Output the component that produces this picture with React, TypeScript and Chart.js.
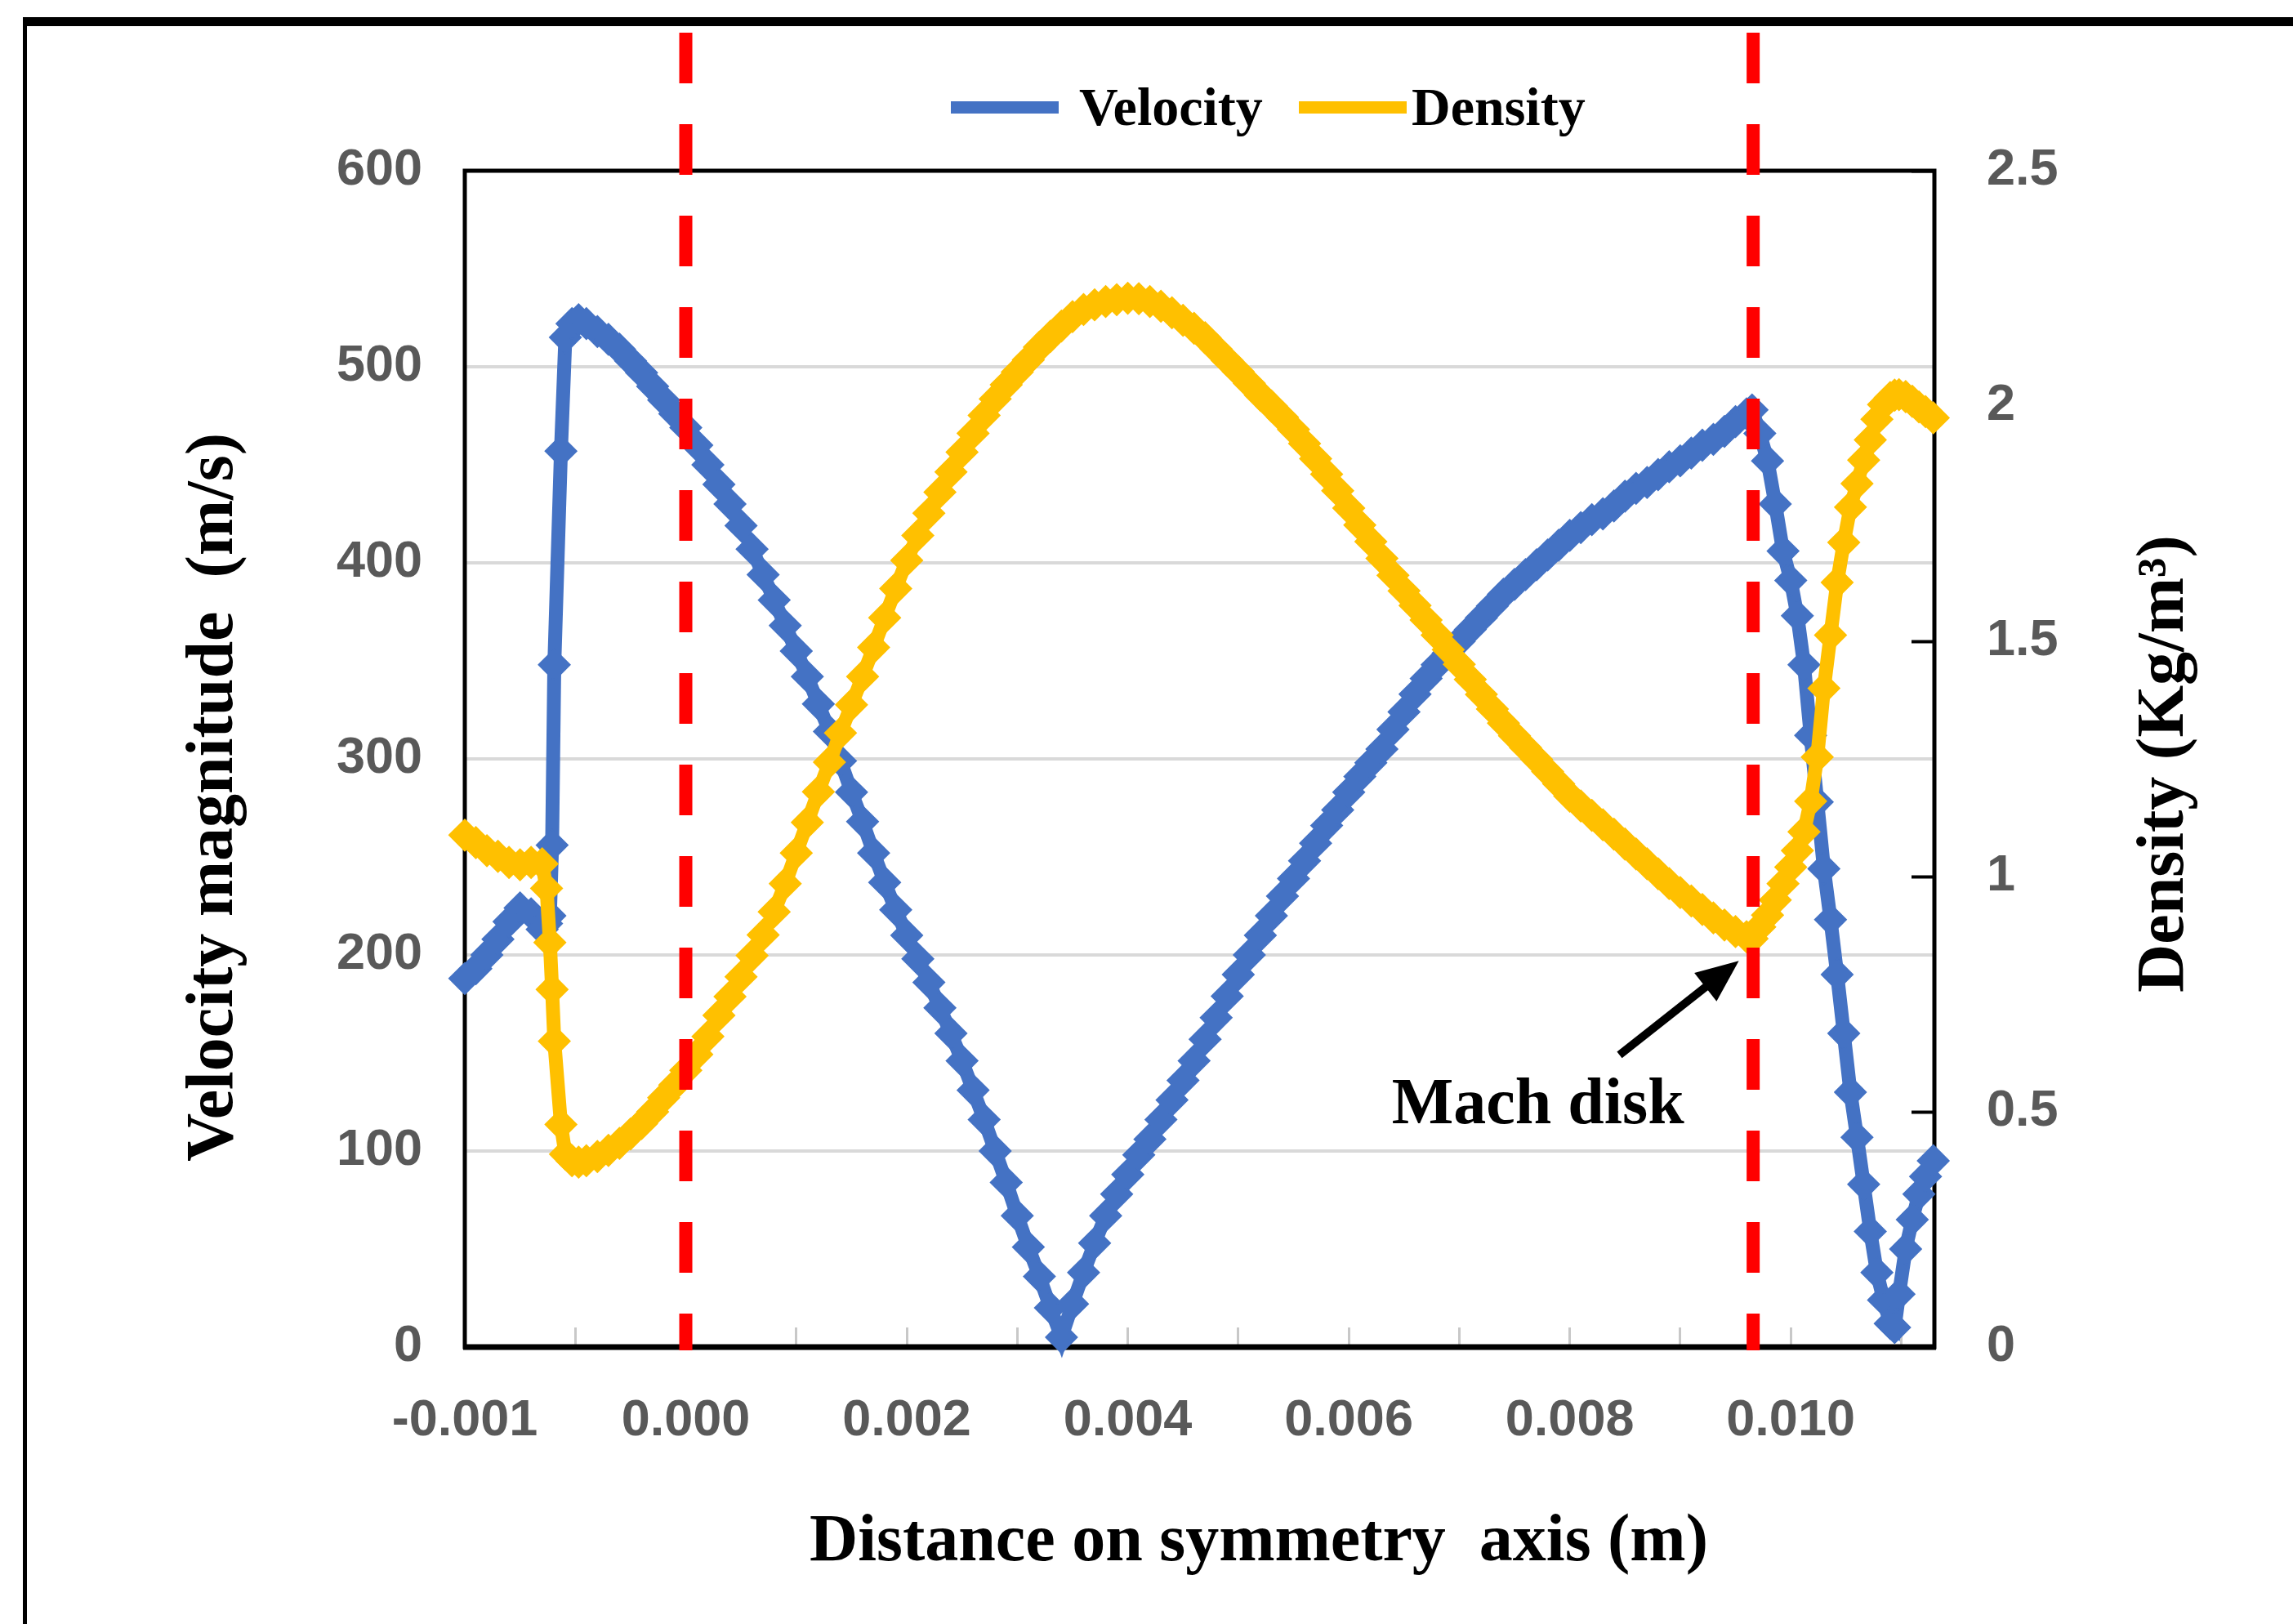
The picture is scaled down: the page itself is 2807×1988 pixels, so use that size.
import React, { useEffect, useRef } from "react";
import { Chart, registerables } from "chart.js";

Chart.register(...registerables);

// ---------------- data ----------------
// distance along the symmetry axis, in millimetres (converted to metres for the axis)
const distanceMm = [
  -2.0, -1.9, -1.8, -1.7, -1.6, -1.5, -1.4, -1.3, -1.26, -1.23, -1.21, -1.19, -1.13, -1.09, -1.03, -0.97,
  -0.9, -0.8, -0.7, -0.6, -0.5, -0.4, -0.3, -0.2, -0.1, 0.0,
  0.1, 0.2, 0.3, 0.4, 0.5, 0.6, 0.7, 0.8, 0.9, 1.0,
  1.1, 1.2, 1.3, 1.4, 1.5, 1.6, 1.7, 1.8, 1.9, 2.0,
  2.1, 2.2, 2.3, 2.4, 2.5, 2.6, 2.7, 2.8, 2.9, 3.0,
  3.1, 3.2, 3.3, 3.4, 3.5, 3.6, 3.7, 3.8, 3.9, 4.0,
  4.1, 4.2, 4.3, 4.4, 4.5, 4.6, 4.7, 4.8, 4.9, 5.0,
  5.1, 5.2, 5.3, 5.4, 5.5, 5.6, 5.7, 5.8, 5.9, 6.0,
  6.1, 6.2, 6.3, 6.4, 6.5, 6.6, 6.7, 6.8, 6.9, 7.0,
  7.1, 7.2, 7.3, 7.4, 7.5, 7.6, 7.7, 7.8, 7.9, 8.0,
  8.1, 8.2, 8.3, 8.4, 8.5, 8.6, 8.7, 8.8, 8.9, 9.0,
  9.1, 9.2, 9.3, 9.4, 9.5, 9.6,
  9.65, 9.72, 9.79, 9.86, 9.93, 10.0, 10.06, 10.12, 10.18, 10.24, 10.3, 10.36, 10.42, 10.48,
  10.54, 10.6, 10.66, 10.72, 10.78, 10.84, 10.9, 10.94, 10.98, 11.04, 11.1, 11.16, 11.22, 11.29,
];

// velocity magnitude (m/s)
const velocity = [
  188, 193, 200, 208, 217, 224, 221, 213, 216, 220, 256, 348, 457, 515, 522, 524,
  522, 518, 514, 509, 503, 497, 490, 483, 476, 469,
  460, 450, 440, 430, 419, 407, 394, 381, 368, 355,
  342, 328, 314, 299, 283, 268, 252, 237, 223, 210,
  198, 186, 173, 160, 146, 131, 116, 100, 84, 67,
  51, 36, 20, 5, 22, 38, 53, 67, 78, 88,
  98, 106, 116, 126, 136, 146, 157, 168, 179, 190,
  200, 210, 220, 230, 239, 248, 257, 266, 274, 283,
  291, 298, 305, 315, 324, 333, 341, 348, 354, 360,
  366, 372, 378, 384, 389, 394, 399, 404, 409, 414,
  418, 422, 425, 429, 434, 438, 441, 445, 449, 452,
  456, 460, 463, 467, 472, 476,
  478, 466, 452, 430, 406, 391, 373, 348, 312, 278, 244, 218, 190, 160,
  130, 107, 83, 59, 38, 24, 12, 10, 27, 50, 65, 78, 87, 95,
];

// density (kg/m3)
const density = [
  1.088, 1.072, 1.055, 1.043, 1.03, 1.025, 1.03, 1.027, 0.975, 0.86, 0.76, 0.65, 0.473, 0.41, 0.396, 0.393,
  0.396, 0.405, 0.418, 0.433, 0.453, 0.475, 0.5, 0.53, 0.557, 0.588,
  0.622, 0.66, 0.705, 0.745, 0.787, 0.832, 0.876, 0.925, 0.985, 1.05,
  1.115, 1.18, 1.243, 1.305, 1.365, 1.425, 1.487, 1.55, 1.612, 1.672,
  1.725, 1.772, 1.817, 1.86, 1.902, 1.942, 1.98, 2.015, 2.045, 2.072,
  2.098, 2.125, 2.148, 2.17, 2.19, 2.205, 2.215, 2.222, 2.226, 2.229,
  2.228, 2.222, 2.212, 2.198, 2.182, 2.165, 2.145, 2.121, 2.097, 2.073,
  2.048, 2.023, 2.0, 1.976, 1.95, 1.92, 1.888, 1.855, 1.82, 1.783,
  1.747, 1.712, 1.676, 1.64, 1.607, 1.576, 1.545, 1.513, 1.482, 1.451,
  1.419, 1.387, 1.356, 1.326, 1.299, 1.274, 1.249, 1.223, 1.197, 1.171,
  1.15, 1.13, 1.11, 1.09, 1.069, 1.048, 1.027, 1.006, 0.985, 0.966,
  0.948, 0.93, 0.912, 0.897, 0.883, 0.872,
  0.868, 0.893, 0.918, 0.95, 0.985, 1.02, 1.055, 1.095, 1.16, 1.254, 1.4, 1.513, 1.625, 1.71,
  1.785, 1.835, 1.885, 1.928, 1.972, 2.003, 2.018, 2.023, 2.024, 2.02, 2.01, 1.998, 1.988, 1.975,
];

const seriesNames = ["Velocity", "Density"];

// x-axis tick labels exactly as printed on the reference
const xTickPositions = [-0.002, 0.0, 0.002, 0.004, 0.006, 0.008, 0.01];
const xTickLabels = ["-0.001", "0.000", "0.002", "0.004", "0.006", "0.008", "0.010"];
const xMinorTicks = [-0.001, 0.001, 0.003, 0.005, 0.007, 0.009, 0.011];

// dashed shock positions (m)
const shockLines = [0.0, 0.00966];

// annotation "Mach disk": text anchor and arrow (x in m, y in m/s)
const machText = "Mach disk";
const machTextAt = { x: 0.00639, y: 114 };
const machArrowTail = { x: 0.00845, y: 149 };
const machArrowTip = { x: 0.00953, y: 197 };

const xTitle = "Distance on symmetry  axis (m)";
const yTitle = "Velocity magnitude  (m/s)";
const y1Title = "Density (Kg/m\u00B3)";

// ---------------- styling ----------------
const W = 2807;
const H = 1988;
const BLUE = "#4472C4";
const GOLD = "#FFC000";
const SERIF = '"Liberation Serif", "Times New Roman", serif';
const SANS = '"Liberation Sans", Arial, sans-serif';
const tickFont = { family: SANS, size: 63, weight: "bold" as const };

const decorPlugin = {
  id: "decor",
  beforeDraw(chart: any) {
    const ctx = chart.ctx;
    ctx.save();
    ctx.fillStyle = "#ffffff";
    ctx.fillRect(0, 0, chart.width, chart.height);
    ctx.fillStyle = "#000000";
    ctx.fillRect(28, 21, chart.width - 28, 11);
    ctx.fillRect(28, 21, 5, chart.height - 21);
    ctx.restore();
  },
  beforeDatasetsDraw(chart: any) {
    const ctx = chart.ctx;
    const a = chart.chartArea;
    ctx.save();
    ctx.strokeStyle = "#000000";
    ctx.lineWidth = 5;
    ctx.strokeRect(a.left, a.top, a.right - a.left, a.bottom - a.top);
    ctx.lineWidth = 7;
    ctx.beginPath();
    ctx.moveTo(a.left - 2, a.bottom);
    ctx.lineTo(a.right + 2, a.bottom);
    ctx.stroke();
    ctx.restore();
  },
  afterDatasetsDraw(chart: any) {
    const ctx = chart.ctx;
    const a = chart.chartArea;
    const xs = chart.scales.x;
    const ys = chart.scales.y;
    ctx.save();

    // red dashed shock lines
    ctx.strokeStyle = "#FF0000";
    ctx.lineWidth = 16;
    ctx.setLineDash([62, 50]);
    shockLines.forEach((v) => {
      const px = xs.getPixelForValue(v);
      ctx.beginPath();
      ctx.moveTo(px, 40);
      ctx.lineTo(px, a.bottom + 4);
      ctx.stroke();
    });
    ctx.setLineDash([]);

    // Mach disk arrow
    const tx = xs.getPixelForValue(machArrowTail.x);
    const ty = ys.getPixelForValue(machArrowTail.y);
    const hx = xs.getPixelForValue(machArrowTip.x);
    const hy = ys.getPixelForValue(machArrowTip.y);
    const len = Math.hypot(hx - tx, hy - ty);
    const ux = (hx - tx) / len;
    const uy = (hy - ty) / len;
    const headLen = 52;
    const headHalf = 22;
    ctx.strokeStyle = "#000000";
    ctx.fillStyle = "#000000";
    ctx.lineWidth = 10;
    ctx.beginPath();
    ctx.moveTo(tx, ty);
    ctx.lineTo(hx - ux * (headLen - 6), hy - uy * (headLen - 6));
    ctx.stroke();
    ctx.beginPath();
    ctx.moveTo(hx, hy);
    ctx.lineTo(hx - ux * headLen - uy * headHalf, hy - uy * headLen + ux * headHalf);
    ctx.lineTo(hx - ux * headLen + uy * headHalf, hy - uy * headLen - ux * headHalf);
    ctx.closePath();
    ctx.fill();

    // Mach disk label
    ctx.font = `bold 80px ${SERIF}`;
    ctx.textAlign = "left";
    ctx.textBaseline = "alphabetic";
    ctx.fillText(machText, xs.getPixelForValue(machTextAt.x), ys.getPixelForValue(machTextAt.y));

    // legend
    const swatchX = [1164, 1590];
    const textX = [1321, 1728];
    ctx.font = `bold 66px ${SERIF}`;
    chart.data.datasets.forEach((ds: any, i: number) => {
      ctx.fillStyle = ds.borderColor;
      ctx.fillRect(swatchX[i], 124, 132, 15);
      ctx.fillStyle = "#000000";
      ctx.fillText(ds.label, textX[i], 153);
    });

    // axis titles
    ctx.font = `bold 82px ${SERIF}`;
    ctx.fillStyle = "#000000";
    ctx.textAlign = "center";
    ctx.fillText(xTitle, 1541, 1910);
    ctx.save();
    ctx.translate(284, 976);
    ctx.rotate(-Math.PI / 2);
    ctx.fillText(yTitle, 0, 0);
    ctx.restore();
    ctx.save();
    ctx.translate(2672, 935);
    ctx.rotate(-Math.PI / 2);
    ctx.fillText(y1Title, 0, 0);
    ctx.restore();

    ctx.restore();
  },
};

export default function App() {
  const ref = useRef<HTMLCanvasElement>(null);

  useEffect(() => {
    document.body.style.margin = "0";
    document.body.style.background = "#ffffff";
    const canvas = ref.current;
    if (!canvas) return;

    const velPoints = distanceMm.map((d, i) => ({ x: d / 1000, y: velocity[i] }));
    const denPoints = distanceMm.map((d, i) => ({ x: d / 1000, y: density[i] }));
    const allXTicks = [...xTickPositions, ...xMinorTicks].sort((p, q) => p - q);

    const seriesStyle = (color: string) => ({
      borderColor: color,
      backgroundColor: color,
      pointBackgroundColor: color,
      pointBorderColor: color,
      borderWidth: 17,
      pointStyle: "rectRot",
      pointRadius: 19,
      pointBorderWidth: 2,
      tension: 0,
      clip: false as any,
    });

    const chart = new Chart(canvas, {
      type: "line",
      data: {
        datasets: [
          {
            label: seriesNames[0],
            data: velPoints,
            yAxisID: "y",
            ...seriesStyle(BLUE),
            order: 1,
          },
          {
            label: seriesNames[1],
            data: denPoints,
            yAxisID: "y1",
            ...seriesStyle(GOLD),
            order: 0,
          },
        ],
      },
      options: {
        responsive: false,
        animation: false,
        devicePixelRatio: 1,
        events: [],
        layout: { padding: { top: 209, left: 0, right: 0, bottom: 0 } },
        plugins: {
          legend: { display: false },
          tooltip: { enabled: false },
        },
        scales: {
          x: {
            type: "linear",
            min: -0.002,
            max: 0.0113,
            afterBuildTicks: (scale: any) => {
              scale.ticks = allXTicks.map((v) => ({ value: v }));
            },
            afterFit: (scale: any) => {
              scale.height = 339;
            },
            ticks: {
              autoSkip: false,
              maxRotation: 0,
              minRotation: 0,
              padding: 77,
              color: "#595959",
              font: tickFont,
              callback: (value: any) => {
                const i = xTickPositions.findIndex((p) => Math.abs(p - Number(value)) < 1e-9);
                return i >= 0 ? xTickLabels[i] : "";
              },
            },
            grid: {
              drawOnChartArea: false,
              drawTicks: true,
              tickLength: -24,
              tickColor: "#C8C8C8",
              tickWidth: 3,
            },
            border: { display: false },
          },
          y: {
            type: "linear",
            position: "left",
            min: 0,
            max: 600,
            afterFit: (scale: any) => {
              scale.width = 569;
            },
            ticks: { stepSize: 100, padding: 52, color: "#595959", font: tickFont },
            grid: { color: "#D9D9D9", lineWidth: 4, drawTicks: false },
            border: { display: false },
          },
          y1: {
            type: "linear",
            position: "right",
            min: 0,
            max: 2.5,
            afterFit: (scale: any) => {
              scale.width = W - 2368;
            },
            ticks: {
              stepSize: 0.5,
              padding: 92,
              color: "#595959",
              font: tickFont,
              callback: (value: any) => String(Number(value)),
            },
            grid: {
              drawOnChartArea: false,
              drawTicks: true,
              tickLength: -28,
              tickColor: "#000000",
              tickWidth: 4,
            },
            border: { display: false },
          },
        },
      },
      plugins: [decorPlugin],
    } as any);

    return () => chart.destroy();
  }, []);

  return (
    <div style={{ width: W, height: H, overflow: "hidden", background: "#ffffff" }}>
      <canvas ref={ref} width={W} height={H} style={{ display: "block", width: W, height: H }} />
    </div>
  );
}
